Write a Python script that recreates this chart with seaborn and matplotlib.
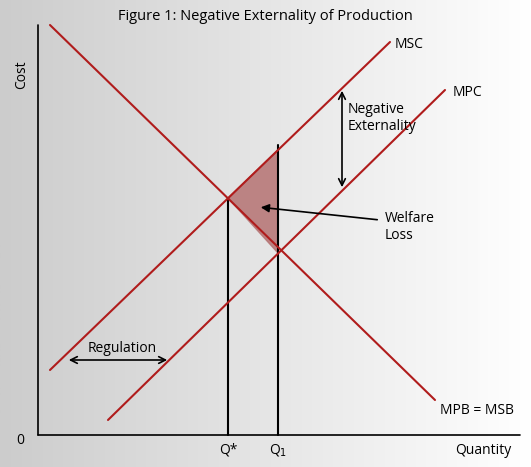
import matplotlib
matplotlib.use("Agg")
import matplotlib.pyplot as plt
import seaborn as sns
import numpy as np
import pandas as pd

sns.set_theme(style="white")
plt.rcParams['font.family'] = ['Open Sans', 'DejaVu Sans']
plt.rcParams['text.color'] = 'black'

# Curve endpoints (quantity, cost) in chart units
msc_q = [12, 352]; msc_c = [65, 393]
mpc_q = [70, 407]; mpc_c = [15, 345]
mpb_q = [12, 397]; mpb_c = [410, 35]
q_star = 190; q_star_top = 237
q_one = 240; q_one_top = 290
tri_q = [190, 240, 240]; tri_c = [237, 285, 182]

fig = plt.figure(figsize=(5.31, 4.67), dpi=100)
ax = fig.add_axes([0, 0, 1, 1])
ax.set_xlim(-38, 493); ax.set_ylim(-32, 435)
ax.axis('off')
grad = np.linspace(0.80, 1.0, 256).reshape(1, -1)
ax.imshow(np.dstack([grad]*3), extent=[-38, 493, -32, 435], aspect='auto', zorder=0)

red = '#b01c1c'
for q, c in [(msc_q, msc_c), (mpc_q, mpc_c), (mpb_q, mpb_c)]:
    sns.lineplot(x=q, y=c, ax=ax, color=red, lw=1.5, sort=False, zorder=3)
ax.fill(tri_q, tri_c, color='#b57272', alpha=0.85, zorder=2)
ax.plot([q_star, q_star], [0, q_star_top], color='black', lw=1.5, zorder=2)
ax.plot([q_one, q_one], [0, q_one_top], color='black', lw=1.5, zorder=2)
ax.plot([0, 0], [0, 410], color='black', lw=1.2)
ax.plot([0, 482], [0, 0], color='black', lw=1.2)

ap = dict(arrowstyle='<->', color='black', lw=1.2)
ax.annotate('', xy=(304, 347), xytext=(304, 245), arrowprops=ap)
ax.annotate('', xy=(28, 75), xytext=(132, 75), arrowprops=ap)
ax.annotate('', xy=(220, 228), xytext=(342, 215), arrowprops=dict(arrowstyle='-|>', color='black', lw=1.2))

fs = 10
ax.text(310, 317, 'Negative\nExternality', fontsize=fs, va='center')
ax.text(347, 208, 'Welfare\nLoss', fontsize=fs, va='center')
ax.text(50, 86, 'Regulation', fontsize=fs, va='center')
ax.text(357, 390, 'MSC', fontsize=fs, va='center')
ax.text(415, 343, 'MPC', fontsize=fs, va='center')
ax.text(402, 25, 'MPB = MSB', fontsize=fs, va='center')
ax.text(q_star, -15, 'Q*', fontsize=fs, ha='center', va='center')
ax.text(q_one, -15, 'Q$_1$', fontsize=fs, ha='center', va='center')
ax.text(-18, -5, '0', fontsize=fs, ha='center', va='center')
ax.text(-16, 360, 'Cost', fontsize=fs, rotation=90, ha='center', va='center')
ax.text(417, -15, 'Quantity', fontsize=fs, va='center')
ax.text(227, 418, 'Figure 1: Negative Externality of Production', fontsize=10.5, ha='center', va='center')

fig.savefig('out.png', dpi=100)
